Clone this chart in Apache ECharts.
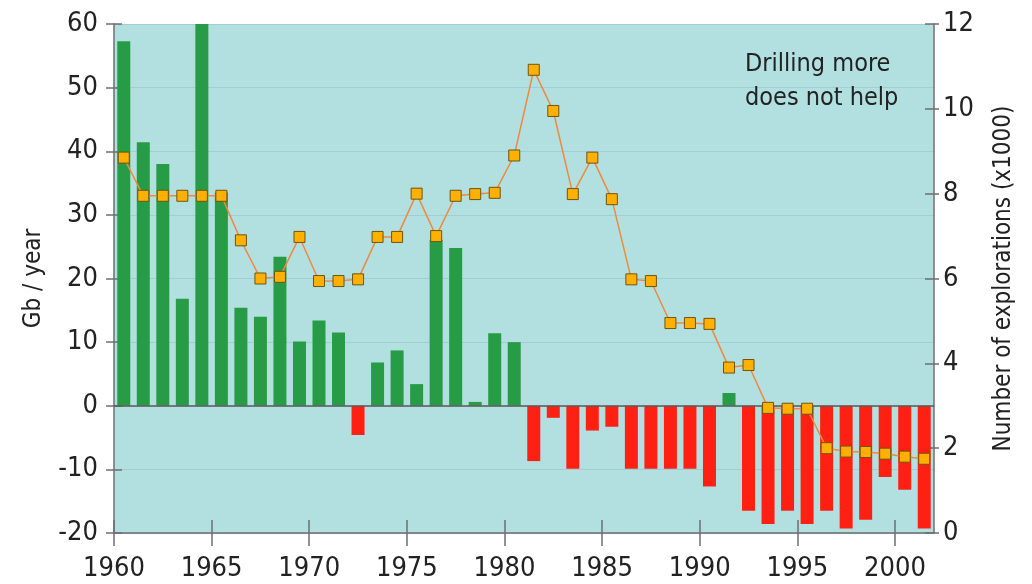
<!DOCTYPE html>
<html>
<head>
<meta charset="utf-8">
<script src="https://cdn.jsdelivr.net/npm/echarts@6/dist/echarts.min.js"></script>
<style>
  html, body { margin: 0; padding: 0; background: #fff; }
  #chart { width: 1032px; height: 584px; }
</style>
</head>
<body>
<div id="chart"></div>
<script>
const years = [1960, 1961, 1962, 1963, 1964, 1965, 1966, 1967, 1968, 1969,
  1970, 1971, 1972, 1973, 1974, 1975, 1976, 1977, 1978, 1979,
  1980, 1981, 1982, 1983, 1984, 1985, 1986, 1987, 1988, 1989,
  1990, 1991, 1992, 1993, 1994, 1995, 1996, 1997, 1998, 1999,
  2000, 2001];
// Gb / year (discoveries minus consumption)
const gbPerYear = [57.3, 41.4, 38.0, 16.8, 60, 33.5, 15.4, 14.0, 23.4, 10.1,
  13.4, 11.5, -4.6, 6.8, 8.7, 3.4, 26.1, 24.8, 0.6, 11.4,
  10.0, -8.7, -1.9, -9.9, -3.9, -3.3, -9.9, -9.9, -9.9, -9.9,
  -12.7, 2.0, -16.5, -18.6, -16.5, -18.6, -16.5, -19.3, -17.9, -11.2,
  -13.2, -19.3];
// number of explorations (x1000)
const explorations = [8.85, 7.95, 7.95, 7.95, 7.95, 7.95, 6.9, 6.0, 6.04, 6.98,
  5.94, 5.94, 5.98, 6.98, 6.98, 8.0, 7.0, 7.95, 7.99, 8.02,
  8.9, 10.92, 9.95, 7.99, 8.85, 7.87, 5.98, 5.94, 4.95, 4.95,
  4.93, 3.9, 3.96, 2.95, 2.93, 2.93, 2.0, 1.92, 1.91, 1.87,
  1.8, 1.75];
const xTicks = [1960, 1965, 1970, 1975, 1980, 1985, 1990, 1995, 2000];
const noteText = "Drilling more\ndoes not help";

const font = "'DejaVu Sans Condensed', 'Liberation Sans Narrow', sans-serif";
const axisGray = "#6f6f6f";

const chart = echarts.init(document.getElementById("chart"));
chart.setOption({
  animation: false,
  backgroundColor: "#fff",
  textStyle: { fontFamily: font },
  title: {
    text: noteText,
    left: 740,
    top: 42,
    textStyle: { fontSize: 25, lineHeight: 34, fontWeight: "normal", color: "#222", fontFamily: font },
  },
  grid: {
    left: 114,
    right: 98,
    top: 24,
    bottom: 51,
    show: true,
    backgroundColor: "#b2e0e1",
    borderWidth: 0,
  },
  xAxis: [
    {
      type: "value",
      min: 1960,
      max: 2002,
      interval: 5,
      position: "bottom",
      axisLine: { show: true, onZero: false, lineStyle: { color: axisGray, width: 1.5 } },
      axisTick: { show: true, inside: true, length: 13, customValues: xTicks, lineStyle: { color: axisGray, width: 1.5 } },
      axisLabel: { customValues: xTicks, formatter: (v) => String(v), fontSize: 27, color: "#222", margin: 22, fontFamily: font },
      splitLine: { show: false },
    },
    {
      type: "value",
      min: 1960,
      max: 2002,
      interval: 5,
      position: "bottom",
      axisLine: { show: false, onZero: false },
      axisTick: { show: true, inside: false, length: 13, customValues: xTicks, lineStyle: { color: axisGray, width: 1.5 } },
      axisLabel: { show: false },
      splitLine: { show: false },
    },
  ],
  yAxis: [
    {
      type: "value",
      position: "left",
      min: -20,
      max: 60,
      interval: 10,
      name: "Gb / year",
      nameLocation: "middle",
      nameRotate: 90,
      nameGap: 68,
      nameTextStyle: { fontSize: 24, color: "#222", fontFamily: font },
      axisLine: { show: true, lineStyle: { color: axisGray, width: 1.5 } },
      axisTick: { show: true, inside: false, length: 8, lineStyle: { color: axisGray, width: 1.5 } },
      axisLabel: { fontSize: 27, color: "#222", margin: 16, fontFamily: font },
      splitLine: { show: true, lineStyle: { color: "#9fcfd5", width: 1 } },
    },
    {
      type: "value",
      position: "right",
      min: 0,
      max: 12,
      interval: 2,
      name: "Number of explorations (x1000)",
      nameLocation: "middle",
      nameRotate: 90,
      nameGap: 58,
      nameTextStyle: { fontSize: 24, color: "#222", fontFamily: font },
      axisLine: { show: true, lineStyle: { color: axisGray, width: 1.5 } },
      axisTick: { show: true, inside: false, length: 5, lineStyle: { color: axisGray, width: 1.5 } },
      axisLabel: { fontSize: 27, color: "#222", margin: 9, fontFamily: font },
      splitLine: { show: false },
    },
    {
      type: "value",
      position: "left",
      min: -20,
      max: 60,
      interval: 10,
      axisLine: { show: false },
      axisTick: { show: true, inside: true, length: 8, lineStyle: { color: axisGray, width: 1.5 } },
      axisLabel: { show: false },
      splitLine: { show: false },
    },
    {
      type: "value",
      position: "right",
      min: 0,
      max: 12,
      interval: 2,
      axisLine: { show: false },
      axisTick: { show: true, inside: true, length: 9, lineStyle: { color: axisGray, width: 1.5 } },
      axisLabel: { show: false },
      splitLine: { show: false },
    },
  ],
  series: [
    {
      type: "bar",
      xAxisIndex: 0,
      yAxisIndex: 0,
      barWidth: 13,
      data: years.map((y, i) => [y + 0.5, gbPerYear[i]]),
      itemStyle: {
        color: (p) => (p.value[1] >= 0 ? "#289b46" : "#ff2014"),
      },
      markLine: {
        silent: true,
        symbol: "none",
        label: { show: false },
        lineStyle: { color: "#5a5a5a", width: 1.5, type: "solid" },
        data: [{ yAxis: 0 }],
      },
      z: 2,
    },
    {
      type: "line",
      xAxisIndex: 0,
      yAxisIndex: 1,
      data: years.map((y, i) => [y + 0.5, explorations[i]]),
      symbol: "rect",
      symbolSize: 11,
      lineStyle: { color: "#ee8a3c", width: 1.5 },
      itemStyle: { color: "#ffb000", borderColor: "#6e5412", borderWidth: 1 },
      z: 5,
    },
  ],
});
</script>
</body>
</html>
